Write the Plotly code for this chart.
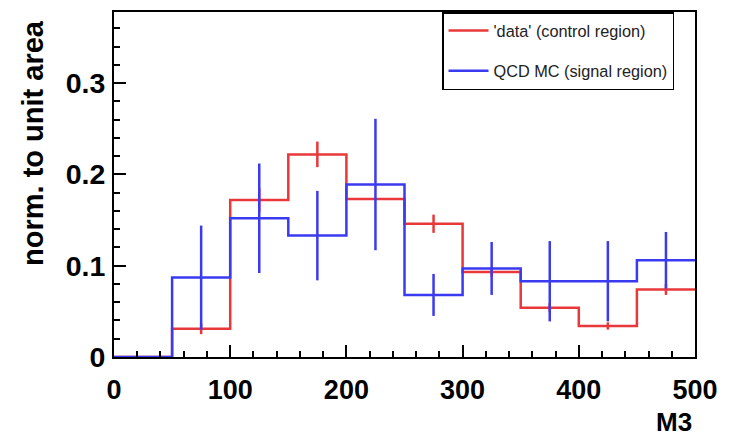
import plotly.graph_objects as go

bin_edges = [0, 50, 100, 150, 200, 250, 300, 350, 400, 450, 500]
bin_centers = [25, 75, 125, 175, 225, 275, 325, 375, 425, 475]

data_vals = [0.0, 0.031, 0.172, 0.222, 0.173, 0.146, 0.093, 0.054, 0.034, 0.074]
data_errs = [0.0, 0.006, 0.013, 0.014, 0.0, 0.010, 0.005, 0.005, 0.004, 0.006]

qcd_vals = [0.0, 0.087, 0.152, 0.133, 0.189, 0.068, 0.097, 0.083, 0.083, 0.106]
qcd_errs = [0.0, 0.057, 0.060, 0.049, 0.072, 0.023, 0.029, 0.044, 0.044, 0.031]

x_ticks = [0, 100, 200, 300, 400, 500]
y_ticks = [0, 0.1, 0.2, 0.3]

RED = "#e8383a"
BLUE = "#3a3af0"

fig = go.Figure()

def add_errs(vals, errs, color, group):
    fig.add_trace(go.Scatter(
        x=bin_centers, y=vals, mode="markers",
        marker=dict(size=0.1, color=color, opacity=0),
        error_y=dict(type="data", array=errs, color=color, thickness=2.5, width=0, visible=True),
        showlegend=False, hoverinfo="skip", legendgroup=group))

def add_step(vals, color, name, group):
    fig.add_trace(go.Scatter(
        x=bin_edges, y=vals + [vals[-1]], mode="lines", line_shape="hv",
        line=dict(color=color, width=2.5), name=name, legendgroup=group))

add_step(data_vals, RED, "'data' (control region)", "a")
add_errs(data_vals, data_errs, RED, "a")
add_step(qcd_vals, BLUE, "QCD MC (signal region)", "b")
add_errs(qcd_vals, qcd_errs, BLUE, "b")

FONT = "Liberation Sans, Arial, sans-serif"

fig.update_layout(
    width=736, height=441,
    margin=dict(l=114, r=41, t=10, b=84),
    paper_bgcolor="white", plot_bgcolor="white",
    font=dict(family=FONT, color="black"),
    showlegend=True,
    legend=dict(
        x=(442 - 114) / 581, y=1.0, xanchor="left", yanchor="top",
        bgcolor="white", bordercolor="black", borderwidth=1.5,
        font=dict(size=16.3, family=FONT, color="#222"),
        tracegroupgap=16, itemwidth=40,
    ),
    xaxis=dict(
        range=[0, 500], tickvals=x_ticks, ticktext=[str(v) for v in x_ticks],
        ticks="inside", ticklen=12, tickwidth=2, tickcolor="black",
        minor=dict(dtick=20, ticks="inside", ticklen=6, tickwidth=2, tickcolor="black"),
        showline=True, linecolor="black", linewidth=2, mirror=True,
        showgrid=False, zeroline=False,
        tickfont=dict(family=FONT, size=27, color="black", weight="bold"),
        ticklabelstandoff=8,
    ),
    yaxis=dict(
        range=[0, 0.378], tickvals=y_ticks, ticktext=["0", "0.1", "0.2", "0.3"],
        ticks="inside", ticklen=12, tickwidth=2, tickcolor="black",
        minor=dict(dtick=0.02, ticks="inside", ticklen=6, tickwidth=2, tickcolor="black"),
        showline=True, linecolor="black", linewidth=2, mirror=True,
        showgrid=False, zeroline=False,
        tickfont=dict(family=FONT, size=28.5, color="black", weight="bold"),
        ticklabelstandoff=1,
    ),
    annotations=[
        dict(text="<b>norm. to unit area</b>", textangle=-90,
             xref="paper", yref="paper", x=(33 - 114) / 581, y=(441 - 84 - 16) / 347,
             xanchor="center", yanchor="top", showarrow=False,
             font=dict(size=29, family=FONT, color="black")),
        dict(text="<b>M3</b>", xref="paper", yref="paper",
             x=(694 - 114) / 581, y=-(422 - 357) / 347,
             xanchor="right", yanchor="middle", showarrow=False,
             font=dict(size=26, family=FONT, color="black")),
    ],
)

fig.write_html("out.html")
